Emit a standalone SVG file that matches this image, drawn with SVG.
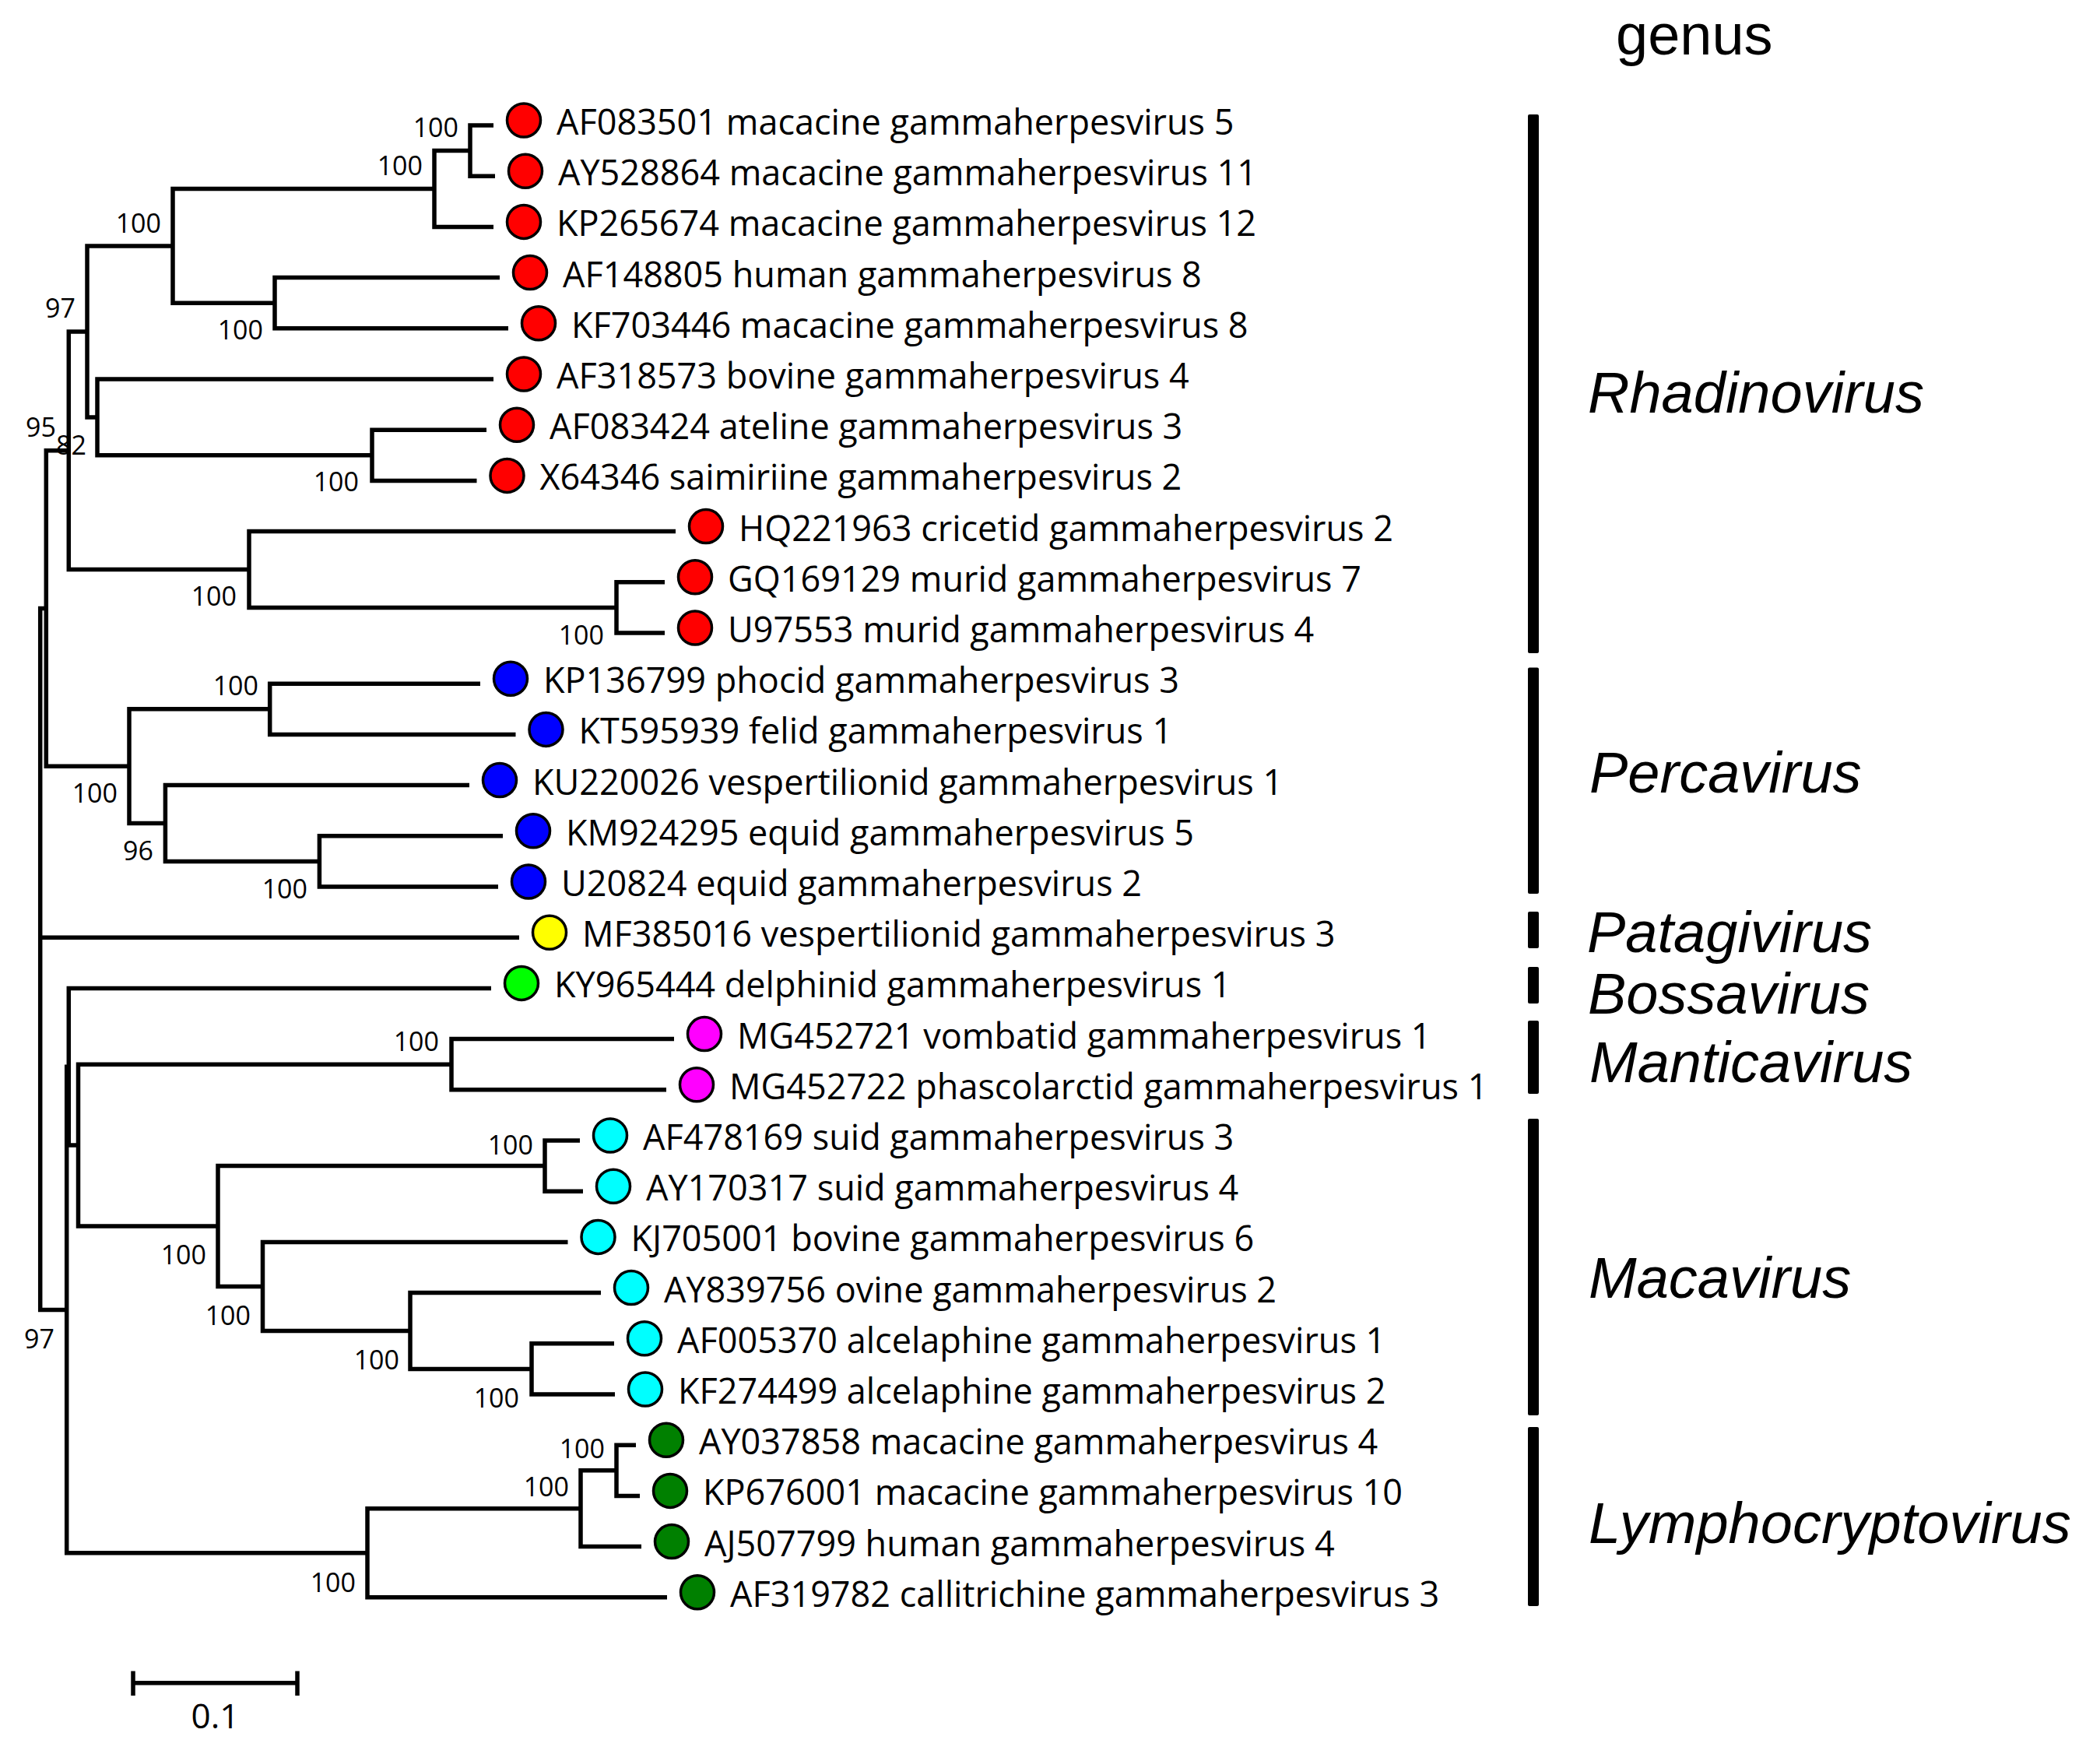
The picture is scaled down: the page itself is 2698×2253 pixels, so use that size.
<svg xmlns="http://www.w3.org/2000/svg" width="2698" height="2253" viewBox="0 0 2698 2253">
<style>
.br{fill:none;stroke:#000;stroke-width:5.5;stroke-linejoin:miter;stroke-linecap:butt}
.tip{stroke:#000;stroke-width:3.5}
.lab{font-family:"Open Sans","DejaVu Sans",sans-serif;font-size:45px;fill:#000}
.bs{font-family:"Open Sans","DejaVu Sans",sans-serif;font-size:34px;fill:#000;text-anchor:end}
.gen{font-family:"Liberation Sans",Arial,sans-serif;font-size:74px;font-style:italic;fill:#000}
.bar{fill:#000}
.r{fill:#ff0000}.b{fill:#0000ff}.y{fill:#ffff00}.g{fill:#00ff00}.m{fill:#ff00ff}.c{fill:#00ffff}.d{fill:#008000}
</style>
<rect width="2698" height="2253" fill="#fff"/>
<g id="connectors">
<path class="br" d="M634 161H604V226.2H636"/>
<path class="br" d="M604 193.6H558V291.4H634"/>
<path class="br" d="M642 356.6H353V421.8H653"/>
<path class="br" d="M558 242.5H222V389.2H353"/>
<path class="br" d="M625 552.2H478V617.4H612.5"/>
<path class="br" d="M634 487H125V584.8H478"/>
<path class="br" d="M222 315.9H112V535.9H125"/>
<path class="br" d="M854 747.8H792V813H854"/>
<path class="br" d="M868 682.6H320V780.4H792"/>
<path class="br" d="M112 425.9H88.3V731.5H320"/>
<path class="br" d="M617 878.2H346.7V943.4H662.5"/>
<path class="br" d="M646 1073.8H410.4V1139H640"/>
<path class="br" d="M603 1008.6H212.4V1106.4H410.4"/>
<path class="br" d="M346.7 910.8H166V1057.5H212.4"/>
<path class="br" d="M88.3 578.7H59.3V984.2H166"/>
<path class="br" d="M59.3 781.4H51.7V1682.5H85.7"/>
<path class="br" d="M51.7 1204.2H667"/>
<path class="br" d="M745 1465H700V1530.2H749"/>
<path class="br" d="M789 1725.8H683V1791H790"/>
<path class="br" d="M772 1660.6H527V1758.4H683"/>
<path class="br" d="M729.5 1595.4H337.5V1709.5H527"/>
<path class="br" d="M700 1497.6H280V1652.5H337.5"/>
<path class="br" d="M866 1334.6H580V1399.8H856"/>
<path class="br" d="M580 1367.2H100.5V1575H280"/>
<path class="br" d="M631 1269.4H88.3V1471.1H100.5"/>
<path class="br" d="M817 1856.2H792V1921.4H822"/>
<path class="br" d="M792 1888.8H746V1986.6H824"/>
<path class="br" d="M746 1937.7H472V2051.8H857"/>
<path class="br" d="M88.3 1370.3H85.7V1994.8H472"/>
</g>
<g id="bootstrap">
<text class="bs" x="589" y="176">100</text>
<text class="bs" x="543" y="225">100</text>
<text class="bs" x="207" y="299">100</text>
<text class="bs" x="338" y="436">100</text>
<text class="bs" x="97" y="408">97</text>
<text class="bs" x="461" y="631">100</text>
<text class="bs" x="111" y="584">82</text>
<text class="bs" x="72" y="561">95</text>
<text class="bs" x="304" y="778">100</text>
<text class="bs" x="776" y="828">100</text>
<text class="bs" x="332" y="893">100</text>
<text class="bs" x="151" y="1031">100</text>
<text class="bs" x="197" y="1105">96</text>
<text class="bs" x="395" y="1154">100</text>
<text class="bs" x="564" y="1350">100</text>
<text class="bs" x="685" y="1483">100</text>
<text class="bs" x="265" y="1624">100</text>
<text class="bs" x="322" y="1702">100</text>
<text class="bs" x="513" y="1759">100</text>
<text class="bs" x="667" y="1808">100</text>
<text class="bs" x="777" y="1873">100</text>
<text class="bs" x="731" y="1922">100</text>
<text class="bs" x="457" y="2045">100</text>
<text class="bs" x="70" y="1732">97</text>
</g>
<g id="leaf0"><circle class="tip r" cx="673" cy="154.5" r="21.5"/><text class="lab" x="715" y="173">AF083501 macacine gammaherpesvirus 5</text></g>
<g id="leaf1"><circle class="tip r" cx="675" cy="219.7" r="21.5"/><text class="lab" x="717" y="238.2">AY528864 macacine gammaherpesvirus 11</text></g>
<g id="leaf2"><circle class="tip r" cx="673" cy="284.9" r="21.5"/><text class="lab" x="715" y="303.4">KP265674 macacine gammaherpesvirus 12</text></g>
<g id="leaf3"><circle class="tip r" cx="681" cy="350.1" r="21.5"/><text class="lab" x="723" y="368.6">AF148805 human gammaherpesvirus 8</text></g>
<g id="leaf4"><circle class="tip r" cx="692" cy="415.3" r="21.5"/><text class="lab" x="734" y="433.8">KF703446 macacine gammaherpesvirus 8</text></g>
<g id="leaf5"><circle class="tip r" cx="673" cy="480.5" r="21.5"/><text class="lab" x="715" y="499">AF318573 bovine gammaherpesvirus 4</text></g>
<g id="leaf6"><circle class="tip r" cx="664" cy="545.7" r="21.5"/><text class="lab" x="706" y="564.2">AF083424 ateline gammaherpesvirus 3</text></g>
<g id="leaf7"><circle class="tip r" cx="651.5" cy="610.9" r="21.5"/><text class="lab" x="693.5" y="629.4">X64346 saimiriine gammaherpesvirus 2</text></g>
<g id="leaf8"><circle class="tip r" cx="907" cy="676.1" r="21.5"/><text class="lab" x="949" y="694.6">HQ221963 cricetid gammaherpesvirus 2</text></g>
<g id="leaf9"><circle class="tip r" cx="893" cy="741.3" r="21.5"/><text class="lab" x="935" y="759.8">GQ169129 murid gammaherpesvirus 7</text></g>
<g id="leaf10"><circle class="tip r" cx="893" cy="806.5" r="21.5"/><text class="lab" x="935" y="825">U97553 murid gammaherpesvirus 4</text></g>
<g id="leaf11"><circle class="tip b" cx="656" cy="871.7" r="21.5"/><text class="lab" x="698" y="890.2">KP136799 phocid gammaherpesvirus 3</text></g>
<g id="leaf12"><circle class="tip b" cx="701.5" cy="936.9" r="21.5"/><text class="lab" x="743.5" y="955.4">KT595939 felid gammaherpesvirus 1</text></g>
<g id="leaf13"><circle class="tip b" cx="642" cy="1002.1" r="21.5"/><text class="lab" x="684" y="1020.6">KU220026 vespertilionid gammaherpesvirus 1</text></g>
<g id="leaf14"><circle class="tip b" cx="685" cy="1067.3" r="21.5"/><text class="lab" x="727" y="1085.8">KM924295 equid gammaherpesvirus 5</text></g>
<g id="leaf15"><circle class="tip b" cx="679" cy="1132.5" r="21.5"/><text class="lab" x="721" y="1151">U20824 equid gammaherpesvirus 2</text></g>
<g id="leaf16"><circle class="tip y" cx="706" cy="1197.7" r="21.5"/><text class="lab" x="748" y="1216.2">MF385016 vespertilionid gammaherpesvirus 3</text></g>
<g id="leaf17"><circle class="tip g" cx="670" cy="1262.9" r="21.5"/><text class="lab" x="712" y="1281.4">KY965444 delphinid gammaherpesvirus 1</text></g>
<g id="leaf18"><circle class="tip m" cx="905" cy="1328.1" r="21.5"/><text class="lab" x="947" y="1346.6">MG452721 vombatid gammaherpesvirus 1</text></g>
<g id="leaf19"><circle class="tip m" cx="895" cy="1393.3" r="21.5"/><text class="lab" x="937" y="1411.8">MG452722 phascolarctid gammaherpesvirus 1</text></g>
<g id="leaf20"><circle class="tip c" cx="784" cy="1458.5" r="21.5"/><text class="lab" x="826" y="1477">AF478169 suid gammaherpesvirus 3</text></g>
<g id="leaf21"><circle class="tip c" cx="788" cy="1523.7" r="21.5"/><text class="lab" x="830" y="1542.2">AY170317 suid gammaherpesvirus 4</text></g>
<g id="leaf22"><circle class="tip c" cx="768.5" cy="1588.9" r="21.5"/><text class="lab" x="810.5" y="1607.4">KJ705001 bovine gammaherpesvirus 6</text></g>
<g id="leaf23"><circle class="tip c" cx="811" cy="1654.1" r="21.5"/><text class="lab" x="853" y="1672.6">AY839756 ovine gammaherpesvirus 2</text></g>
<g id="leaf24"><circle class="tip c" cx="828" cy="1719.3" r="21.5"/><text class="lab" x="870" y="1737.8">AF005370 alcelaphine gammaherpesvirus 1</text></g>
<g id="leaf25"><circle class="tip c" cx="829" cy="1784.5" r="21.5"/><text class="lab" x="871" y="1803">KF274499 alcelaphine gammaherpesvirus 2</text></g>
<g id="leaf26"><circle class="tip d" cx="856" cy="1849.7" r="21.5"/><text class="lab" x="898" y="1868.2">AY037858 macacine gammaherpesvirus 4</text></g>
<g id="leaf27"><circle class="tip d" cx="861" cy="1914.9" r="21.5"/><text class="lab" x="903" y="1933.4">KP676001 macacine gammaherpesvirus 10</text></g>
<g id="leaf28"><circle class="tip d" cx="863" cy="1980.1" r="21.5"/><text class="lab" x="905" y="1998.6">AJ507799 human gammaherpesvirus 4</text></g>
<g id="leaf29"><circle class="tip d" cx="896" cy="2045.3" r="21.5"/><text class="lab" x="938" y="2063.8">AF319782 callitrichine gammaherpesvirus 3</text></g>
<g id="genus-header"><text x="2076" y="70" style="font-family:'Liberation Sans',Arial,sans-serif;font-size:74px;fill:#000">genus</text></g>
<g id="genus-rhadinovirus"><rect class="bar" x="1963" y="147" width="14" height="692" rx="2"/><text class="gen" x="2040" y="530">Rhadinovirus</text></g>
<g id="genus-percavirus"><rect class="bar" x="1963" y="857.5" width="14" height="290.5" rx="2"/><text class="gen" x="2042" y="1018">Percavirus</text></g>
<g id="genus-patagivirus"><rect class="bar" x="1963" y="1171" width="14" height="47" rx="2"/><text class="gen" x="2039" y="1223">Patagivirus</text></g>
<g id="genus-bossavirus"><rect class="bar" x="1963" y="1242" width="14" height="47" rx="2"/><text class="gen" x="2040" y="1302">Bossavirus</text></g>
<g id="genus-manticavirus"><rect class="bar" x="1963" y="1311" width="14" height="94" rx="2"/><text class="gen" x="2042" y="1390">Manticavirus</text></g>
<g id="genus-macavirus"><rect class="bar" x="1963" y="1437" width="14" height="381" rx="2"/><text class="gen" x="2041" y="1667">Macavirus</text></g>
<g id="genus-lymphocryptovirus"><rect class="bar" x="1963" y="1833" width="14" height="230" rx="2"/><text class="gen" x="2041" y="1982">Lymphocryptovirus</text></g>
<g id="scale-bar">
<path class="br" d="M171 2161.7H382M171 2146.5V2178M382 2146.5V2178"/>
<text x="276.5" y="2220" style="font-family:'Open Sans','DejaVu Sans',sans-serif;font-size:44px;fill:#000;text-anchor:middle">0.1</text>
</g>
</svg>
